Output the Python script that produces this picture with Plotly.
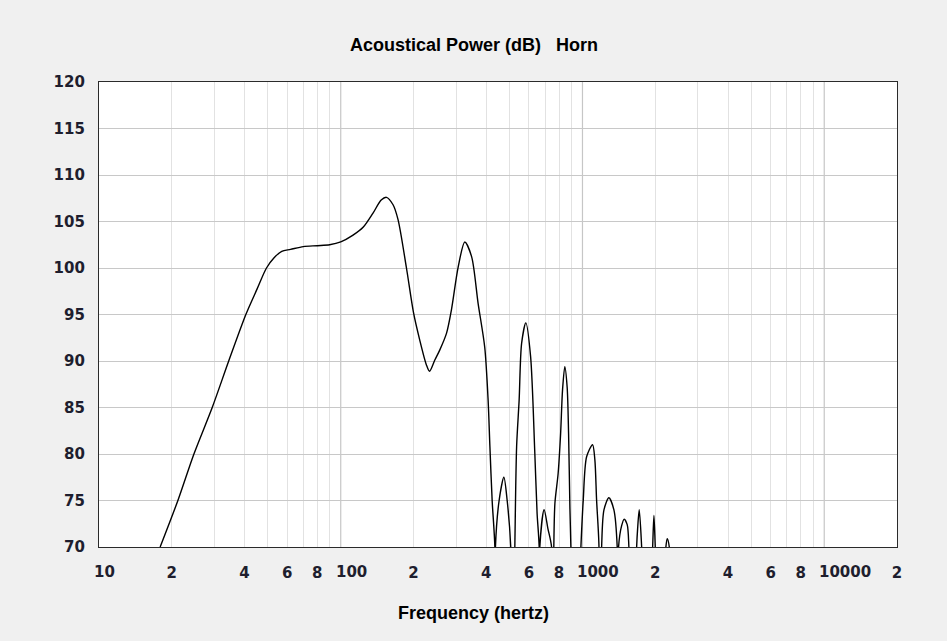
import math
import plotly.graph_objects as go

# ---- data (frequency in Hz, acoustical power in dB) ----
freq_hz = [17.9, 21.2, 24.7, 29.4, 34.4, 40.5, 45, 49.3, 53, 57, 62, 70, 80, 90,
           100, 112, 124, 136, 147, 154.5, 164.6, 172.6, 187, 200, 212, 226, 233,
           245, 257, 274, 287, 306, 326, 348, 370, 394, 407, 414, 423, 434,
           435, 436.5, 452, 473, 488, 505,
           515, 525, 534, 547, 560, 583, 610, 635, 649, 662,
           663.5, 666, 694, 719, 745,
           751, 761, 769, 793, 812, 827, 845, 864, 876, 887, 895,
           939, 985, 1007, 1040, 1101, 1125, 1144, 1169,
           1184, 1200, 1227, 1286, 1349, 1392,
           1399, 1410, 1452, 1488, 1531, 1556,
           1615, 1675, 1691, 1717, 1757,
           1850, 1951, 1975, 2000,
           2100, 2213, 2242, 2286,
           2400, 20000]
power_db = [70, 75, 80, 85, 90, 95, 97.7, 100, 101.1, 101.8, 102.0, 102.3, 102.4, 102.5,
            102.8, 103.5, 104.4, 105.9, 107.3, 107.6, 106.8, 105.2, 100.0, 95.2, 92.3, 89.6, 88.9,
            90.1, 91.2, 93.0, 95.5, 100.1, 102.8, 101.2, 96.2, 91.5, 85.8, 80.8, 75.0, 70.0,
            55, 70, 75, 77.5, 75, 70,
            55, 70, 80.8, 85.8, 91.9, 94.1, 90.5, 80.1, 73.6, 70,
            55, 70, 74, 72, 70,
            55, 70, 74.7, 77.9, 82.2, 86.9, 89.4, 87.2, 82.2, 74.3, 70.2,
            55, 70, 75, 79.7, 81.0, 79.4, 75, 70.4,
            55, 70, 74, 75.3, 74, 70,
            55, 70, 72.3, 73.0, 72.4, 70,
            55, 70, 72, 74, 70,
            55, 70, 73.4, 70,
            55, 70, 70.9, 70,
            55, 40]

# labelled x positions: single-digit labels sit centred on their gridline,
# decade labels start with their first digit on the gridline
x_digit_vals = [20, 40, 60, 80, 200, 400, 600, 800, 2000, 4000, 6000, 8000, 20000]
x_digit_text = ["2", "4", "6", "8", "2", "4", "6", "8", "2", "4", "6", "8", "2"]
x_decade_vals = [10, 100, 1000, 10000]
x_decade_text = ["10", "100", "1000", "10000"]
x_minor_vals = [30, 50, 70, 90, 300, 500, 700, 900, 3000, 5000, 7000, 9000]
y_tick_vals = [70, 75, 80, 85, 90, 95, 100, 105, 110, 115, 120]

LABEL_FONT = dict(family="DejaVu Sans, Verdana, sans-serif", size=15, color="#1e1e2e", weight="bold")
TITLE_FONT = dict(family="Liberation Sans Narrow, Arial Narrow, Liberation Sans, sans-serif",
                  size=18, color="#000000", weight="bold")

fig = go.Figure()
fig.add_trace(go.Scatter(x=freq_hz, y=power_db, mode="lines",
                         line=dict(color="#000000", width=1.4, shape="spline", smoothing=0.8),
                         hoverinfo="x+y", showlegend=False))

for d in x_decade_vals[1:]:
    fig.add_shape(type="line", xref="x", yref="paper", x0=d, x1=d, y0=0, y1=1,
                  line=dict(color="#c6c6c6", width=1.2), layer="below")

annotations = [
    dict(text="Acoustical Power (dB)\u00a0\u00a0\u00a0Horn", xref="paper", yref="paper",
         x=(473.5 - 99) / 798, y=(547 - 45) / 465, xanchor="center", yanchor="middle",
         showarrow=False, font=TITLE_FONT),
    dict(text="Frequency (hertz)", xref="paper", yref="paper",
         x=(473.5 - 99) / 798, y=(547 - 613) / 465, xanchor="center", yanchor="middle",
         showarrow=False, font=TITLE_FONT),
]
# annotations on a log axis are positioned in log10 units
for v, t in zip(x_decade_vals, x_decade_text):
    annotations.append(dict(text=t, xref="x", yref="paper", x=math.log10(v), y=(547 - 572) / 465,
                            xanchor="left", yanchor="middle", xshift=-7, showarrow=False,
                            font=LABEL_FONT))

fig.update_layout(
    width=947, height=641,
    margin=dict(l=99, r=50, t=82, b=94),
    paper_bgcolor="#f0f0f0",
    plot_bgcolor="#ffffff",
    showlegend=False,
    xaxis=dict(
        type="log", range=[1, 4.30104],
        tickmode="array", tickvals=x_digit_vals, ticktext=x_digit_text,
        tickfont=LABEL_FONT, ticks="", ticklabelstandoff=12, tickangle=0,
        showgrid=True, gridcolor="#e2e2e2", gridwidth=1,
        minor=dict(tickvals=x_minor_vals, showgrid=True, gridcolor="#e2e2e2", gridwidth=1, ticks=""),
        showline=True, linecolor="#2a2a2a", linewidth=1.2, mirror=True,
        zeroline=False, fixedrange=True,
    ),
    yaxis=dict(
        range=[70, 120], tickmode="array", tickvals=y_tick_vals,
        tickfont=LABEL_FONT, ticks="", ticklabelstandoff=10,
        showgrid=True, gridcolor="#c8c8c8", gridwidth=1.2,
        showline=True, linecolor="#2a2a2a", linewidth=1.2, mirror=True,
        zeroline=False, fixedrange=True,
    ),
    annotations=annotations,
)

fig.write_html(
    "out.html",
    config={"displayModeBar": False},
    post_script="document.body.style.margin='0px';document.body.style.background='#f0f0f0';",
)
